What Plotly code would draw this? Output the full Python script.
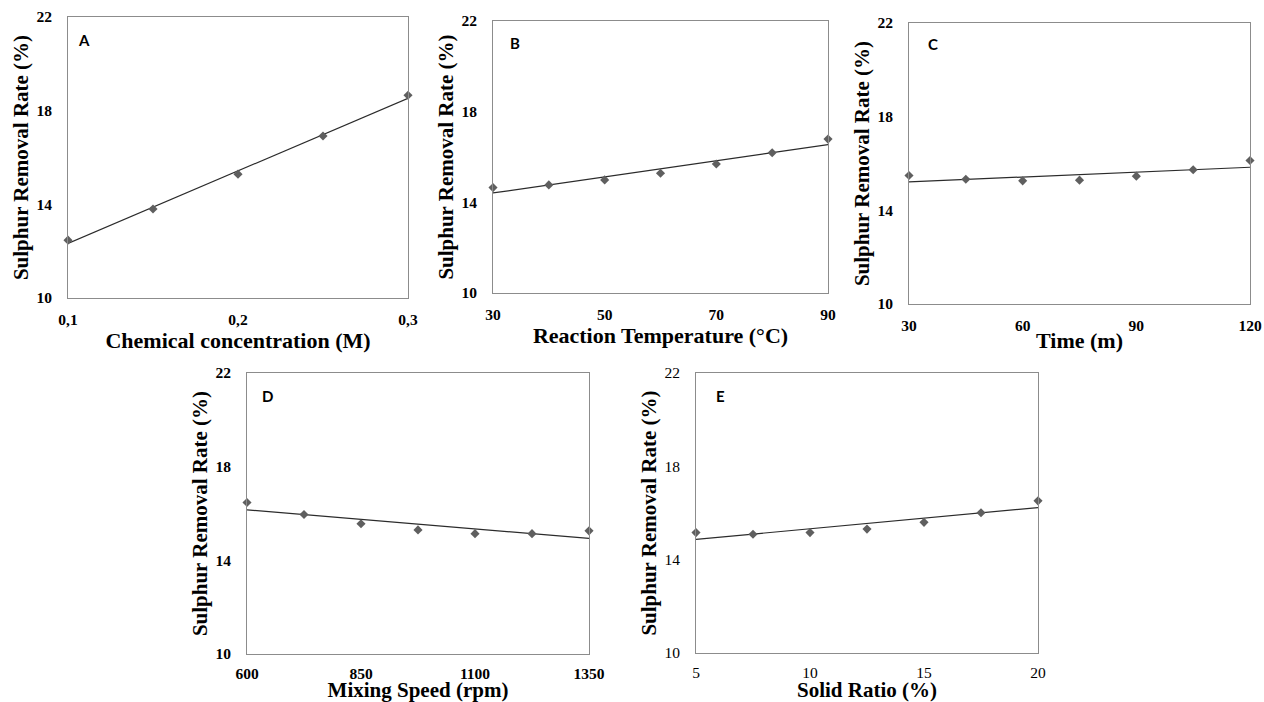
import numpy as np
import plotly.graph_objects as go

# ---------------- data ----------------
conc_x = [0.1, 0.15, 0.2, 0.25, 0.3]
conc_y = [12.47, 13.80, 15.29, 16.92, 18.66]

temp_x = [30, 40, 50, 60, 70, 80, 90]
temp_y = [14.65, 14.77, 14.99, 15.28, 15.69, 16.19, 16.79]

time_x = [30, 45, 60, 75, 90, 105, 120]
time_y = [15.49, 15.33, 15.26, 15.29, 15.46, 15.73, 16.13]

speed_x = [600, 725, 850, 975, 1100, 1225, 1350]
speed_y = [16.47, 15.96, 15.56, 15.30, 15.14, 15.14, 15.26]

solid_x = [5, 7.5, 10, 12.5, 15, 17.5, 20]
solid_y = [15.16, 15.09, 15.16, 15.31, 15.60, 16.01, 16.52]

y_ticks = [10, 14, 18, 22]
conc_ticks = [0.1, 0.2, 0.3]
conc_ticktext = ["0,1", "0,2", "0,3"]
temp_ticks = [30, 50, 70, 90]
time_ticks = [30, 60, 90, 120]
speed_ticks = [600, 850, 1100, 1350]
solid_ticks = [5, 10, 15, 20]

panel_letters = ["A", "B", "C", "D", "E"]
x_titles = ["Chemical concentration (M)", "Reaction Temperature (°C)", "Time (m)",
            "Mixing Speed (rpm)", "Solid Ratio (%)"]
y_title = "Sulphur Removal Rate (%)"

# ---------------- layout geometry (page pixels) ----------------
W, H = 1264, 702
boxes = [  # left, right, top, bottom in page px
    (68, 408, 17, 298),
    (493, 828, 21, 293),
    (909, 1250, 23, 304),
    (247, 589, 373, 654),
    (696, 1038, 373, 653),
]
letter_offsets = [(16, 23), (22, 22), (24, 21), (20, 23), (24, 23)]
x_ticklen = [7, 7, 7, 5, 5]
x_title_size = [22, 22, 22, 21, 21]

panels = [
    (conc_x, conc_y, [0.1, 0.3], conc_ticks, conc_ticktext, True),
    (temp_x, temp_y, [30, 90], temp_ticks, None, True),
    (time_x, time_y, [30, 120], time_ticks, None, True),
    (speed_x, speed_y, [600, 1350], speed_ticks, None, True),
    (solid_x, solid_y, [5, 20], solid_ticks, None, False),
]

SERIF = "Liberation Serif, Times New Roman, serif"
FRAME = "#8c8c8c"
MARK = "#5f5f5f"
TREND = "#2b2b2b"

fig = go.Figure()
layout = dict(
    width=W, height=H,
    margin=dict(l=0, r=0, t=0, b=0, autoexpand=False),
    paper_bgcolor="white", plot_bgcolor="white",
    showlegend=False,
    annotations=[],
)

for i, ((xs, ys, xr, xt, xtt, bold), (l, r, t, b)) in enumerate(zip(panels, boxes)):
    n = i + 1
    xa = "xaxis" if n == 1 else f"xaxis{n}"
    ya = "yaxis" if n == 1 else f"yaxis{n}"
    xref = "x" if n == 1 else f"x{n}"
    yref = "y" if n == 1 else f"y{n}"

    # trendline (linear least-squares fit of the data, like an Excel trendline)
    k, c = np.polyfit(np.array(xs, dtype=float), np.array(ys, dtype=float), 1)
    tx = np.array([min(xs), max(xs)], dtype=float)
    fig.add_trace(go.Scatter(x=tx, y=k * tx + c, mode="lines",
                             line=dict(color=TREND, width=1.2),
                             xaxis=xref, yaxis=yref, hoverinfo="skip",
                             cliponaxis=False))
    fig.add_trace(go.Scatter(x=xs, y=ys, mode="markers",
                             marker=dict(symbol="diamond", size=7, color=MARK),
                             xaxis=xref, yaxis=yref, cliponaxis=False))

    tickfont = dict(family=SERIF, size=15.5, color="black",
                    weight="bold" if bold else "normal")

    layout[xa] = dict(
        domain=[l / W, r / W], anchor=yref, range=xr, automargin=False,
        tickvals=xt, ticktext=xtt if xtt else [str(v) for v in xt],
        showgrid=False, zeroline=False,
        showline=True, mirror=True, linecolor=FRAME, linewidth=1,
        ticks="outside", ticklen=x_ticklen[i], tickcolor="rgba(0,0,0,0)",
        tickfont=tickfont,
        title=dict(text=x_titles[i], standoff=0,
                   font=dict(family=SERIF, size=x_title_size[i], color="black",
                             weight="bold")),
    )
    layout[ya] = dict(
        domain=[1 - b / H, 1 - t / H], anchor=xref, range=[10, 22], automargin=False,
        tickvals=y_ticks, showgrid=False, zeroline=False,
        showline=True, mirror=True, linecolor=FRAME, linewidth=1,
        ticks="outside", ticklen=12, tickcolor="rgba(0,0,0,0)",
        tickfont=tickfont,
        title=dict(text=y_title, standoff=2,
                   font=dict(family=SERIF, size=21, color="black", weight="bold")),
    )
    dx, dy = letter_offsets[i]
    layout["annotations"].append(dict(
        text=panel_letters[i], xref=f"{xref} domain", yref=f"{yref} domain",
        x=dx / (r - l), y=1 - dy / (b - t), xanchor="center", yanchor="middle",
        showarrow=False,
        font=dict(family="Lato, Liberation Sans, sans-serif", size=15,
                  color="black", weight="bold"),
    ))

fig.update_layout(**layout)
fig.write_html(
    "out.html",
    config={"displayModeBar": False},
    post_script="document.body.style.margin='0';document.body.style.overflow='hidden';",
)
